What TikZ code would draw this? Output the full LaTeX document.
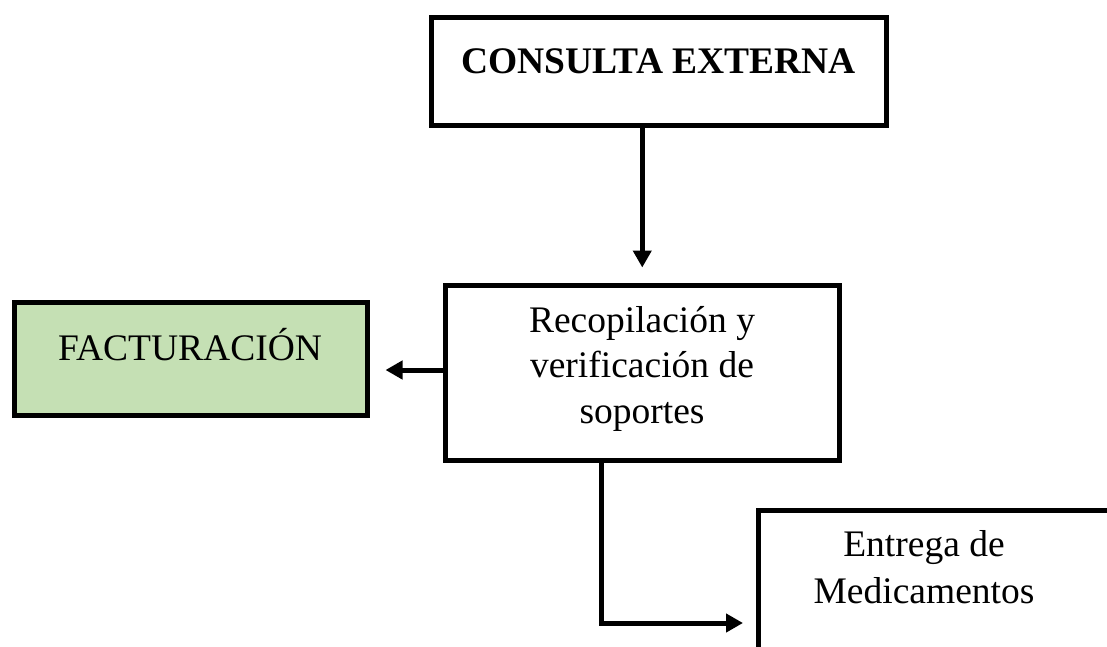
\documentclass[tikz,border=0pt]{standalone}
\usepackage{fontspec}
\setmainfont{Liberation Serif}
\usetikzlibrary{arrows.meta}
\definecolor{factgreen}{RGB}{197,224,180}
\tikzset{
  box/.style={draw=black, line width=5pt, rectangle, inner sep=0pt, fill=white},
  lbl/.style={inner sep=0pt, anchor=base, align=center, font=\fontsize{37.5}{45.5}\selectfont},
  arr/.style={line width=5pt, -{Triangle[length=17pt,width=18pt]}},
}
\begin{document}
\begin{tikzpicture}[x=1pt,y=-1pt]
\useasboundingbox (0,0) rectangle (1107,646);
\clip (0,0) rectangle (1107,646);
\node[box, minimum width=454.5pt, minimum height=108pt] (consulta) at (658.75,71.5) {};
\node[box, minimum width=394.5pt, minimum height=175pt] (recop) at (642.25,373) {};
\node[box, fill=factgreen, minimum width=353.5pt, minimum height=113pt] (fact) at (190.75,359) {};
\node[box, anchor=north west, minimum width=420pt, minimum height=226pt] (entrega) at (756,507.5) {};
\node[lbl, font=\fontsize{37.5}{45.5}\selectfont\bfseries] (consultaT) at (658.5,73) {CONSULTA EXTERNA};
\node[lbl] (factT) at (190,360) {FACTURACIÓN};
\node[lbl] (recopT) at (642,423) {Recopilación y\\verificación de\\soportes};
\node[lbl, font=\fontsize{37.5}{47}\selectfont] (entregaT) at (924,603) {Entrega de\\Medicamentos};
\draw[arr, shorten >=15.5pt] (consulta.south -| recop.north) -- (recop.north);
\draw[arr, shorten >=15.5pt] ([yshift=3pt]recop.west) -- ([yshift=3pt]recop.west -| fact.east);
\draw[arr, shorten >=13pt] ([xshift=-40.75pt]recop.south) |- (entrega.west);
\end{tikzpicture}
\end{document}
